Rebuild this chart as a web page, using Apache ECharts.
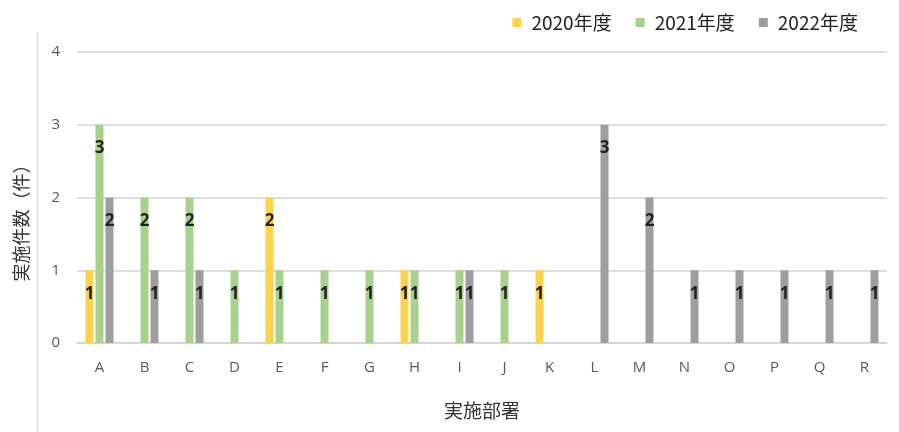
<!DOCTYPE html>
<html>
<head>
<meta charset="utf-8">
<script src="https://cdn.jsdelivr.net/npm/echarts@6/dist/echarts.min.js"></script>
<style>
  html, body { margin: 0; padding: 0; background: #fff; }
  #chart { width: 899px; height: 432px; }
</style>
</head>
<body>
<div id="chart"></div>
<script>
// Departments (x axis)
const departments = ['A','B','C','D','E','F','G','H','I','J','K','L','M','N','O','P','Q','R'];
// Counts per fiscal year; null where there was no activity
const fy2020 = [1, null, null, null, 2, null, null, 1, null, null, 1, null, null, null, null, null, null, null];
const fy2021 = [3, 2, 2, 1, 1, 1, 1, 1, 1, 1, null, null, null, null, null, null, null, null];
const fy2022 = [2, 1, 1, null, null, null, null, null, 1, null, null, 3, 2, 1, 1, 1, 1, 1];
const seriesNames = ['2020年度', '2021年度', '2022年度'];
const yTicks = [0, 1, 2, 3, 4];

const font = '"Noto Sans CJK JP", "Noto Sans", sans-serif';
const latin = '"Open Sans", "Noto Sans", sans-serif';
const colors = ['#fdd24e', '#a9d18e', '#9e9e9e'];

const chart = echarts.init(document.getElementById('chart'));

function barSeries(name, data, color) {
  return {
    name: name,
    type: 'bar',
    data: data,
    barWidth: 8,
    barGap: '25%',
    itemStyle: { color: color },
    label: {
      show: true,
      position: 'insideTop',
      distance: 15,
      color: '#222',
      fontWeight: 'bold',
      fontSize: 17,
      fontFamily: latin
    }
  };
}

chart.setOption({
  animation: false,
  textStyle: { fontFamily: font },
  legend: {
    top: 8,
    right: 36,
    itemWidth: 9,
    itemHeight: 9,
    itemGap: 24,
    icon: 'rect',
    textStyle: { fontSize: 19, color: '#222', fontFamily: font, padding: [0, 0, 0, 5] },
    data: seriesNames
  },
  grid: { left: 77, right: 12, top: 52, bottom: 89 },
  xAxis: {
    type: 'category',
    data: departments,
    name: '実施部署',
    nameLocation: 'middle',
    nameGap: 58,
    nameTextStyle: { fontSize: 19, color: '#333', fontFamily: font },
    axisLine: { lineStyle: { color: '#d4d4d4', width: 1.5 } },
    axisTick: { show: false },
    axisLabel: { fontSize: 15, color: '#595959', margin: 17, fontFamily: latin }
  },
  yAxis: {
    type: 'value',
    min: yTicks[0],
    max: yTicks[yTicks.length - 1],
    interval: 1,
    name: '実施件数（件）',
    nameLocation: 'middle',
    nameGap: 47,
    nameRotate: 90,
    nameTextStyle: { fontSize: 18, color: '#333', fontFamily: font, padding: [0, 42, 0, 0] },
    axisLine: { show: false },
    axisTick: { show: false },
    axisLabel: { fontSize: 15, color: '#595959', margin: 17, fontFamily: latin },
    splitLine: { lineStyle: { color: '#d4d4d4', width: 1.5 } }
  },
  graphic: [{
    type: 'line',
    shape: { x1: 37.5, y1: 32, x2: 37.5, y2: 432 },
    style: { stroke: '#dcdcdc', lineWidth: 1.5 }
  }],
  series: [
    barSeries(seriesNames[0], fy2020, colors[0]),
    barSeries(seriesNames[1], fy2021, colors[1]),
    barSeries(seriesNames[2], fy2022, colors[2])
  ]
});
</script>
</body>
</html>
